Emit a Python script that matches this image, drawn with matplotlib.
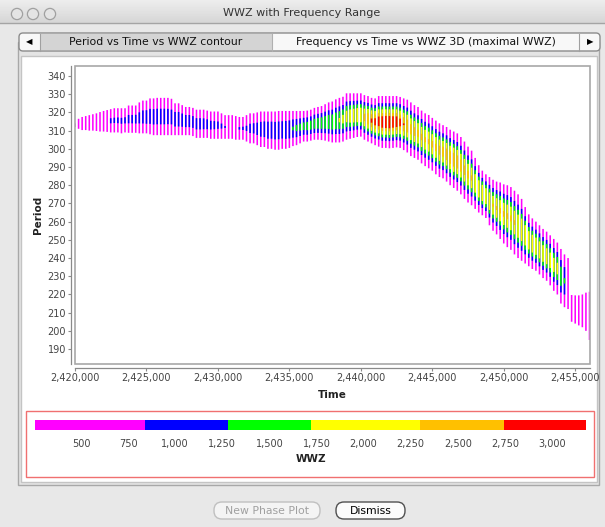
import numpy as np
import matplotlib
matplotlib.use('Agg')
import matplotlib.pyplot as plt
from matplotlib.patches import Rectangle, FancyBboxPatch, Circle
from matplotlib.colors import ListedColormap, BoundaryNorm
from matplotlib.ticker import FuncFormatter, MultipleLocator
import matplotlib.cm as cm

# WWZ columns: one every 250 days starting at JD 2,420,000
times = 2420000 + 250 * np.arange(145)

# outer extent (period) of each plotted column
period_lo = [312.0, 311.0, 310.3, 310.3, 310.0, 310.0, 309.8, 309.5, 309.5, 309.3,
             309.0, 309.0, 309.0, 308.5, 309.0, 308.8, 308.8, 308.8, 308.5, 308.5,
             308.5, 308.0, 307.5, 307.5, 307.5, 307.5, 307.5, 307.5, 307.5, 307.5,
             307.5, 307.5, 307.5, 307.0, 306.0, 306.0, 306.0, 306.0, 305.5, 305.5,
             305.5, 305.5, 305.5, 305.5, 305.5, 305.0, 305.0, 305.0, 304.0, 303.0,
             303.0, 302.0, 301.0, 301.0, 300.0, 300.0, 299.5, 299.5, 300.0, 300.0,
             300.5, 301.5, 302.0, 303.0, 304.0, 304.0, 304.5, 305.0, 305.0, 304.8,
             304.5, 304.0, 303.5, 303.5, 303.5, 304.0, 305.0, 305.5, 306.0, 306.5,
             306.7, 305.0, 304.0, 303.0, 302.0, 301.2, 300.5, 300.5, 300.3, 300.5,
             300.8, 300.5, 299.3, 298.0, 296.0, 295.0, 294.0, 292.0, 290.5, 289.3,
             288.0, 286.0, 284.5, 283.8, 282.0, 280.0, 278.5, 277.0, 275.0, 272.5,
             270.5, 269.0, 267.0, 265.0, 263.5, 262.0, 258.0, 255.0, 253.0, 250.5,
             248.0, 246.0, 244.5, 242.0, 240.0, 238.5, 237.0, 235.5, 234.0, 233.0,
             231.0, 229.0, 227.5, 225.0, 222.0, 220.0, 215.0, 213.0, 212.0, 205.0,
             204.0, 203.0, 202.0, 200.0, 195.0]
period_hi = [314.0, 316.5, 317.5, 318.0, 318.5, 319.0, 319.5, 320.2, 320.8, 321.3,
             321.8, 322.3, 322.3, 322.3, 322.3, 323.8, 323.8, 323.8, 325.5, 326.5,
             326.5, 327.7, 327.7, 328.0, 328.0, 328.0, 328.0, 327.5, 325.0, 325.0,
             324.0, 323.0, 323.0, 322.5, 321.5, 321.5, 321.5, 321.0, 320.5, 320.5,
             320.5, 319.5, 318.5, 318.5, 318.5, 318.0, 317.5, 317.5, 318.5, 319.5,
             319.5, 320.0, 320.5, 320.5, 320.5, 320.5, 320.5, 320.8, 320.8, 320.8,
             320.8, 320.8, 320.8, 320.8, 320.8, 321.0, 321.5, 322.5, 323.0, 323.5,
             324.5, 325.5, 326.0, 327.2, 328.0, 328.6, 330.5, 330.5, 330.5, 330.5,
             330.5, 329.5, 329.0, 328.0, 327.7, 329.0, 329.0, 329.0, 329.0, 329.0,
             329.0, 328.5, 327.7, 327.0, 325.5, 324.0, 323.0, 321.0, 319.5, 318.6,
             317.0, 315.5, 314.0, 313.0, 312.0, 310.5, 309.5, 308.5, 306.5, 304.0,
             301.2, 299.0, 295.0, 291.0, 288.0, 286.0, 284.5, 283.0, 282.0, 281.5,
             280.5, 280.0, 279.0, 277.0, 275.0, 272.5, 268.0, 264.0, 261.8, 260.0,
             258.0, 256.0, 254.5, 252.5, 250.5, 248.5, 245.0, 242.0, 240.0, 219.7,
             219.5, 219.5, 220.0, 221.0, 221.5]
# highest WWZ reached in each column
wwz_peak = [400, 500, 560, 600, 650, 680, 720, 760, 800, 830,
            890, 890, 900, 900, 910, 950, 950, 960, 1000, 1050,
            1070, 1080, 1080, 1080, 1080, 1080, 1070, 1060, 1150, 1150,
            1120, 1100, 1100, 1080, 1050, 1050, 1030, 1000, 960, 940,
            920, 880, 845, 830, 830, 835, 850, 860, 880, 950,
            980, 1020, 1080, 1120, 1150, 1150, 1150, 1150, 1150, 1180,
            1220, 1300, 1350, 1380, 1420, 1450, 1480, 1520, 1550, 1570,
            1600, 1620, 1650, 1700, 1750, 1850, 1950, 2050, 2100, 2150,
            2200, 2450, 2650, 2800, 2900, 3000, 3100, 3150, 3150, 3100,
            3050, 2900, 2750, 2650, 2500, 2450, 2400, 2380, 2350, 2350,
            2380, 2400, 2450, 2500, 2550, 2600, 2650, 2600, 2550, 2450,
            2400, 2350, 2300, 2300, 2300, 2300, 2300, 2320, 2330, 2350,
            2350, 2350, 2350, 2330, 2300, 2300, 2280, 2260, 2250, 2250,
            2230, 2200, 2150, 2100, 2000, 1900, 1600, 1300, 800, 500,
            520, 540, 560, 580, 620]

# paint scale
wwz_bounds = [254, 838, 1278, 1719, 2302, 2743, 3183]
wwz_colors = ['#ff00ff', '#0000ff', '#00ff00', '#ffff00', '#ffc000', '#ff0000']
wwz_ticks = [500, 750, 1000, 1250, 1500, 1750, 2000, 2250, 2500, 2750, 3000]

W, H = 605, 527
fig = plt.figure(figsize=(W / 100, H / 100), dpi=100)
fig.patch.set_facecolor('#e8e8e8')

# window chrome drawn in pixel coordinates
bg = fig.add_axes([0, 0, 1, 1])
grad = np.linspace(0.93, 0.84, 40)[:, None]
bg.imshow(grad, cmap='gray', vmin=0, vmax=1, extent=(0, W, 23, 0), aspect='auto')
bg.set_xlim(0, W)
bg.set_ylim(H, 0)
bg.axis('off')
bg.plot([0, W], [23, 23], color='#a4a4a4', lw=1)
for cx in (17, 33, 50):
    bg.add_patch(Circle((cx, 14), 5.6, facecolor='#e4e4e4', edgecolor='#a0a0a0', lw=0.9))
bg.text(302, 13, 'WWZ with Frequency Range', ha='center', va='center',
        fontsize=8, color='#333333')

# tabbed pane
bg.add_patch(Rectangle((18, 42), 581, 443, facecolor='#e4e4e4', edgecolor='#a8a8a8', lw=1))
bg.add_patch(Rectangle((21, 56), 576, 426, facecolor='white', edgecolor='#c4c4c4', lw=1))
bg.add_patch(FancyBboxPatch((19, 33), 581, 18, boxstyle='round,pad=0,rounding_size=4',
                            facecolor='#f8f8f8', edgecolor='#8c8c8c', lw=1))
bg.add_patch(Rectangle((40, 33.6), 232, 16.8, facecolor='#d4d4d4', edgecolor='none'))
bg.plot([40, 40], [33.5, 50.5], color='#a0a0a0', lw=0.8)
bg.plot([272, 272], [33.5, 50.5], color='#b0b0b0', lw=0.8)
bg.plot([579, 579], [33.5, 50.5], color='#a0a0a0', lw=0.8)
bg.text(29, 42, '◀', ha='center', va='center', fontsize=6, color='black')
bg.text(590, 42, '▶', ha='center', va='center', fontsize=6, color='black')
bg.text(156, 42, 'Period vs Time vs WWZ contour', ha='center', va='center',
        fontsize=7.8, color='#111111')
bg.text(426, 42, 'Frequency vs Time vs WWZ 3D (maximal WWZ)', ha='center', va='center',
        fontsize=7.8, color='#111111')

# legend frame
bg.add_patch(Rectangle((26, 411), 568, 66, facecolor='none', edgecolor='#f07070', lw=1))

# buttons
bg.add_patch(FancyBboxPatch((214, 502), 106, 17, boxstyle='round,pad=0,rounding_size=8',
                            facecolor='#f4f4f4', edgecolor='#c0c0c0', lw=1))
bg.text(267, 510.5, 'New Phase Plot', ha='center', va='center', fontsize=7.8, color='#a0a0a0')
bg.add_patch(FancyBboxPatch((336, 502), 69, 17, boxstyle='round,pad=0,rounding_size=8',
                            facecolor='#fbfbfb', edgecolor='#505050', lw=1))
bg.text(370.5, 510.5, 'Dismiss', ha='center', va='center', fontsize=7.8, color='black')

# main chart
ax = fig.add_axes([75 / W, 1 - 364 / H, 514.5 / W, 298 / H])
ax.set_facecolor('white')

lo = np.array(period_lo)
hi = np.array(period_hi)
pk = np.array(wwz_peak, dtype=float)
mid = (lo + hi) / 2
hw = (hi - lo) / 2
span = np.log(pk / wwz_bounds[0])
for lev, col in zip(wwz_bounds[:-1], wwz_colors):
    keep = pk > lev
    frac = np.sqrt(np.log(pk[keep] / lev) / span[keep])
    d = hw[keep] * frac
    ax.bar(times[keep], 2 * d, bottom=mid[keep] - d, width=110, color=col,
           linewidth=0, snap=False)

ax.set_xlim(2420000, 2456000)
ax.set_ylim(181.8, 345.5)
ax.xaxis.set_major_locator(MultipleLocator(5000))
ax.yaxis.set_major_locator(MultipleLocator(10))
ax.xaxis.set_major_formatter(FuncFormatter(lambda v, p: f'{int(round(v)):,}'))
for s in ('top', 'right'):
    ax.spines[s].set_visible(False)
for s in ('left', 'bottom'):
    ax.spines[s].set_position(('outward', 2.9))
    ax.spines[s].set_color('#8a8a8a')
    ax.spines[s].set_linewidth(0.9)
ax.add_patch(Rectangle((0, 0), 1, 1, transform=ax.transAxes, fill=False,
                       edgecolor='#a8a8a8', lw=1.2, clip_on=False, zorder=5))
ax.tick_params(direction='out', length=2, width=0.8, color='#8a8a8a',
               labelsize=7, labelcolor='#444444', pad=1.5)
ax.set_xlabel('Time', fontsize=7.5, fontweight='bold', color='#222222')
ax.xaxis.label.set_va('center')
ax.xaxis.set_label_coords(0.5, (364 - 395) / 298)
ax.set_ylabel('Period', fontsize=7.5, fontweight='bold', color='#222222')
ax.yaxis.label.set_va('center')
ax.yaxis.set_label_coords((38 - 75) / 514.5, 0.5)

# paint scale legend
cax = fig.add_axes([34.7 / W, 1 - 430 / H, 551.7 / W, 10 / H])
cmap = ListedColormap(wwz_colors)
norm = BoundaryNorm(wwz_bounds, cmap.N)
cb = fig.colorbar(cm.ScalarMappable(norm=norm, cmap=cmap), cax=cax,
                  orientation='horizontal', spacing='proportional', ticks=wwz_ticks)
cb.outline.set_visible(False)
cb.minorticks_off()
for sp in cax.spines.values():
    sp.set_visible(False)
cax.xaxis.set_major_formatter(FuncFormatter(lambda v, p: f'{int(round(v)):,}'))
cax.tick_params(which='both', length=0, pad=6.5, labelsize=7, labelcolor='#444444')
cax.set_xlabel('WWZ', fontsize=7.5, fontweight='bold', color='#222222')
cax.xaxis.label.set_va('center')
cax.xaxis.set_label_coords(0.5, (430 - 459) / 10)

fig.savefig('out.png', dpi=100, facecolor=fig.get_facecolor())
